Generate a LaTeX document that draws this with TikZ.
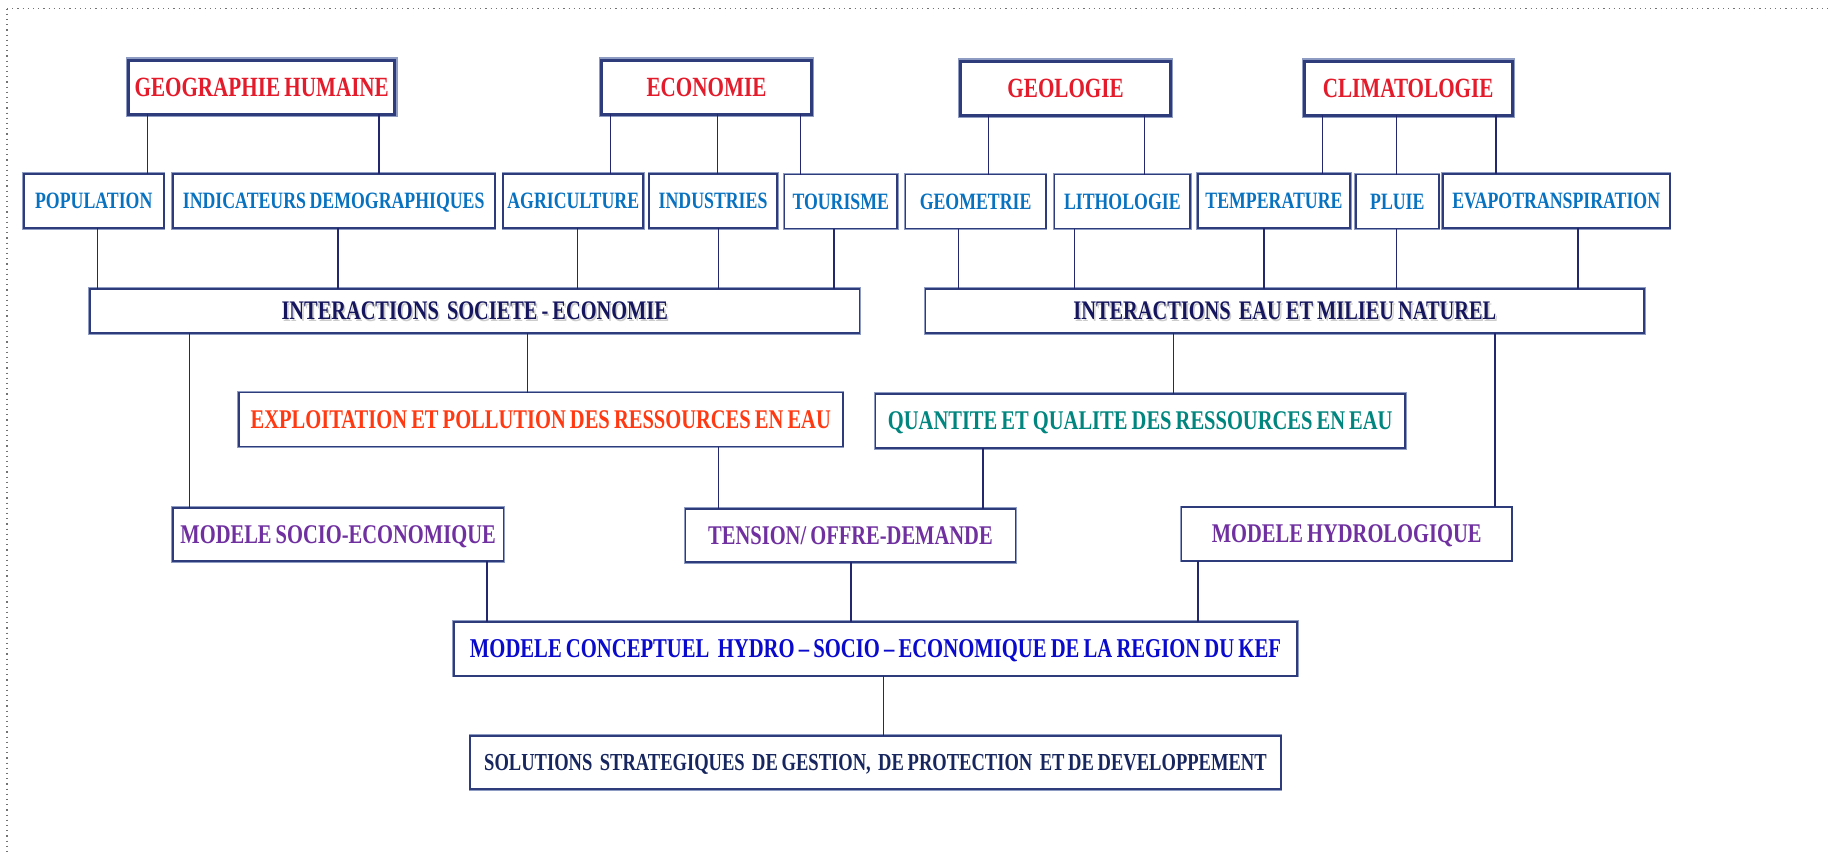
\documentclass[tikz,border=0pt]{standalone}
\usepackage{fontspec}
\setmainfont{Liberation Serif}[FakeStretch=0.76]
\definecolor{titlered}{HTML}{E31B2B}
\definecolor{subblue}{HTML}{0872C0}
\definecolor{navytxt}{HTML}{16165E}
\definecolor{explred}{HTML}{FF3A12}
\definecolor{tealtxt}{HTML}{00867E}
\definecolor{purpletxt}{HTML}{7030A0}
\definecolor{concblue}{HTML}{0A0ACC}
\definecolor{soltxt}{HTML}{17265E}
\definecolor{boxdark}{HTML}{2E3C7C}
\definecolor{boxlight}{HTML}{8E9CC4}
\definecolor{linknavy}{HTML}{23286E}
\newcommand\shadowtext[1]{\rlap{\kern0.8pt\raisebox{-1pt}{\color{black!20}#1}}#1}
\newcommand\tight{\spaceskip=0.8\fontdimen2\font plus 0.1\fontdimen2\font}
\newcommand\bx[7]{\node[#6, minimum width=#4*0.5pt, minimum height=#5*0.5pt] (#1) at (#2,#3) {#7};}
\newcommand\conn[3]{\path (#3,0) coordinate (tmpx); \draw[link] (#1.south -| tmpx) -- (#2.north -| tmpx);}
\tikzset{
  basebox/.style={rectangle, inner sep=0pt, outer sep=0pt, fill=white, draw=boxdark, line width=0.9pt,
    preaction={draw=boxlight, line width=1.6pt}, font=\bfseries},
  titlebox/.style={basebox, line width=1.5pt, preaction={draw=boxlight, line width=2.6pt},
    text=titlered, font=\bfseries\fontsize{13.9pt}{14pt}\selectfont\tight, text height=9.1pt, text depth=0pt},
  subbox/.style={basebox, text=subblue, font=\bfseries\fontsize{11.7pt}{12pt}\selectfont\tight, text height=7.7pt, text depth=0pt},
  interbox/.style={basebox, text=navytxt, font=\bfseries\fontsize{13.4pt}{14pt}\selectfont\tight, text height=8.8pt, text depth=0pt},
  explbox/.style={basebox, text=explred, font=\bfseries\fontsize{13.5pt}{14pt}\selectfont\tight, text height=8.8pt, text depth=0pt},
  quantbox/.style={basebox, text=tealtxt, font=\bfseries\fontsize{13.5pt}{14pt}\selectfont\tight, text height=8.8pt, text depth=0pt},
  modbox/.style={basebox, text=purpletxt, font=\bfseries\fontsize{13.5pt}{14pt}\selectfont\tight, text height=8.8pt, text depth=0pt},
  concbox/.style={basebox, text=concblue, font=\bfseries\fontsize{13.6pt}{14pt}\selectfont\tight, text height=8.9pt, text depth=0pt},
  solbox/.style={basebox, text=soltxt, font=\bfseries\fontsize{12.2pt}{13pt}\selectfont\tight, text height=8pt, text depth=0pt},
  link/.style={draw=linknavy, line width=0.7pt},
  frameline/.style={draw=black!55, line width=0.6pt, dotted}
}
\begin{document}
\begin{tikzpicture}[x=0.5pt,y=-0.5pt]
\useasboundingbox (0,0) rectangle (1829,852);
\fill[white] (0,0) rectangle (1829,852);
% page frame (top and left only)
\coordinate (fc) at (7,8.5);
\draw[frameline] (fc) -- (1829,8.5);
\draw[frameline] (fc) -- (7,852);
% row 1
\bx{gh}{261.7}{87}{266.5}{54}{titlebox}{GEOGRAPHIE HUMAINE}
\bx{eco}{706.5}{87}{209.6}{54}{titlebox}{ECONOMIE}
\bx{geol}{1065.6}{88}{209.6}{54}{titlebox}{GEOLOGIE}
\bx{clim}{1408.1}{88}{207.8}{54}{titlebox}{CLIMATOLOGIE}
% row 2
\bx{pop}{93.75}{201}{140.1}{54}{subbox}{POPULATION}
\bx{ind}{333.7}{201}{322.2}{54}{subbox}{INDICATEURS DEMOGRAPHIQUES}
\bx{agri}{573.25}{201}{140.1}{54}{subbox}{AGRICULTURE}
\bx{indus}{713.05}{201}{127.7}{54}{subbox}{INDUSTRIES}
\bx{tour}{840.75}{201.5}{112.7}{54}{subbox}{TOURISME}
\bx{geom}{975.6}{201.5}{140.4}{54}{subbox}{GEOMETRIE}
\bx{lith}{1122.3}{201.5}{135.6}{54}{subbox}{LITHOLOGIE}
\bx{temp}{1273.95}{201}{152.3}{54}{subbox}{TEMPERATURE}
\bx{pluie}{1397.3}{201.5}{82.8}{54}{subbox}{PLUIE}
\bx{evapo}{1556.25}{201}{226.9}{54}{subbox}{EVAPOTRANSPIRATION}
% row 3
\bx{isoc}{474.75}{311}{769.5}{44}{interbox}{\shadowtext{INTERACTIONS\ \ SOCIETE - ECONOMIE}}
\bx{ieau}{1284.85}{311}{718.7}{44}{interbox}{\shadowtext{INTERACTIONS\ \ EAU ET MILIEU NATUREL}}
% row 4
\bx{expl}{540.75}{419.5}{603.9}{54}{explbox}{EXPLOITATION ET POLLUTION DES RESSOURCES EN EAU}
\bx{quant}{1140.25}{421}{529.5}{54}{quantbox}{QUANTITE ET QUALITE DES RESSOURCES EN EAU}
% row 5
\bx{msoc}{338.1}{534.5}{330.6}{53.5}{modbox}{MODELE SOCIO-ECONOMIQUE}
\bx{tens}{850.45}{535.5}{330.1}{53.5}{modbox}{TENSION/ OFFRE-DEMANDE}
\bx{mhyd}{1346.65}{534}{330.3}{53.5}{modbox}{MODELE HYDROLOGIQUE}
% row 6, 7
\bx{mconc}{875.45}{648.85}{843.7}{53.7}{concbox}{MODELE CONCEPTUEL\ \ HYDRO -- SOCIO -- ECONOMIQUE DE LA REGION DU KEF}
\bx{sol}{875.45}{762.5}{810.5}{53.6}{solbox}{SOLUTIONS\ \ STRATEGIQUES\ \ DE GESTION,\ \ DE PROTECTION\ \ ET DE DEVELOPPEMENT}
% connectors
\conn{gh}{pop}{147.3}
\conn{gh}{ind}{378.8}
\conn{eco}{agri}{610.4}
\conn{eco}{indus}{717.2}
\conn{eco}{tour}{800.6}
\conn{geol}{geom}{988.5}
\conn{geol}{lith}{1144.6}
\conn{clim}{temp}{1322.4}
\conn{clim}{pluie}{1396.5}
\conn{clim}{evapo}{1495.8}
\conn{pop}{isoc}{97.6}
\conn{ind}{isoc}{338}
\conn{agri}{isoc}{577.3}
\conn{indus}{isoc}{718.6}
\conn{tour}{isoc}{834.1}
\conn{geom}{ieau}{958.7}
\conn{lith}{ieau}{1074.2}
\conn{temp}{ieau}{1264}
\conn{pluie}{ieau}{1396.2}
\conn{evapo}{ieau}{1578.1}
\conn{isoc}{msoc}{189.4}
\conn{isoc}{expl}{527.6}
\conn{ieau}{quant}{1173.4}
\conn{ieau}{mhyd}{1495}
\conn{expl}{tens}{718.7}
\conn{quant}{tens}{983}
\conn{msoc}{mconc}{486.8}
\conn{tens}{mconc}{850.9}
\conn{mhyd}{mconc}{1197.8}
\conn{mconc}{sol}{883.4}
\end{tikzpicture}
\end{document}
